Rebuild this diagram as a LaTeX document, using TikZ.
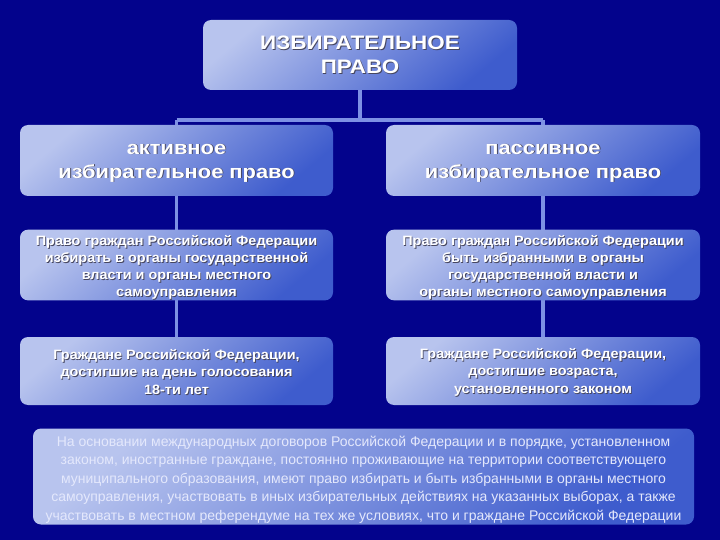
\documentclass[tikz,border=0pt]{standalone}
\usepackage{fontspec}
\setmainfont{Liberation Sans}
\newfontfamily\wideA[FakeStretch=1.15]{Liberation Sans}
\newfontfamily\wideB[FakeStretch=1.07]{Liberation Sans}
\usetikzlibrary{backgrounds}
\definecolor{bgc}{RGB}{3,3,140}
\definecolor{boxlight}{RGB}{184,196,238}
\definecolor{boxdark}{RGB}{62,92,205}
\definecolor{linec}{RGB}{125,145,228}
\definecolor{shadowc}{RGB}{70,70,95}
\definecolor{txtc}{RGB}{255,255,255}
\definecolor{paletxt}{RGB}{228,232,252}
\newcommand{\shd}[1]{\makebox[0pt][l]{\kern0.9pt\raisebox{-0.9pt}{\textcolor{shadowc}{#1}}}#1}
\newcommand{\tp}[1]{\rule{0pt}{#1}}
\tikzset{
  x=1pt, y=-1pt,
  box/.style={rounded corners=8pt, draw=none, top color=boxlight, bottom color=boxdark,
     shading angle=40, align=center, inner sep=0pt, text=txtc},
  conn/.style={draw=linec, line width=3.2pt},
}
\begin{document}
\begin{tikzpicture}
\useasboundingbox (0,0) rectangle (720,540);
\node[box, minimum width=314pt, minimum height=70pt, font=\wideA\fontsize{19.5}{24}\selectfont\bfseries] (top) at (360,55)
  {\shd{ИЗБИРАТЕЛЬНОЕ}\\\shd{ПРАВО}};
\node[box, minimum width=313pt, minimum height=71pt, font=\wideA\fontsize{19}{24}\selectfont\bfseries] (a2) at (176.5,160.5)
  {\tp{16pt}\shd{активное}\\\shd{избирательное право}};
\node[box, minimum width=314pt, minimum height=71pt, font=\wideA\fontsize{19}{24}\selectfont\bfseries] (p2) at (543,160.5)
  {\tp{16pt}\shd{пассивное}\\\shd{избирательное право}};
\node[box, minimum width=313pt, minimum height=70pt, font=\wideB\fontsize{13.5}{17}\selectfont\bfseries] (a3) at (176.5,265)
  {\tp{16pt}\shd{Право граждан Российской Федерации}\\\shd{избирать в органы государственной}\\\shd{власти и органы местного}\\\shd{самоуправления}};
\node[box, minimum width=314pt, minimum height=70pt, font=\wideB\fontsize{13.5}{17}\selectfont\bfseries] (p3) at (543,265)
  {\tp{16pt}\shd{Право граждан Российской Федерации}\\\shd{быть избранными в органы}\\\shd{государственной власти и}\\\shd{органы местного самоуправления}};
\node[box, minimum width=313pt, minimum height=68pt, font=\wideB\fontsize{13.5}{17.5}\selectfont\bfseries] (a4) at (176.5,371)
  {\tp{13pt}\shd{Граждане Российской Федерации,}\\\shd{достигшие на день голосования}\\\shd{18-ти лет}};
\node[box, minimum width=314pt, minimum height=68pt, font=\wideB\fontsize{13.5}{17.5}\selectfont\bfseries] (p4) at (543,371)
  {\tp{13pt}\shd{Граждане Российской Федерации,}\\\shd{достигшие возраста,}\\\shd{установленного законом}};
\node[box, minimum width=661pt, minimum height=96pt, text=paletxt, font=\fontsize{14}{18.5}\selectfont] (bot) at (363.5,476.5)
  {\tp{16pt}На основании международных договоров Российской Федерации и в порядке, установленном\\
   законом, иностранные граждане, постоянно проживающие на территории соответствующего\\
   муниципального образования, имеют право избирать и быть избранными в органы местного\\
   самоуправления, участвовать в иных избирательных действиях на указанных выборах, а также\\
   участвовать в местном референдуме на тех же условиях, что и граждане Российской Федерации};
\coordinate (hy) at (360,120);
\begin{pgfonlayer}{background}
  \fill[bgc] (0,0) rectangle (720,540);
  \draw[conn] (top.south) -- (hy);
  \draw[conn] (a2.north |- hy) -- (p2.north |- hy);
  \draw[conn] (a2.north |- hy) -- (a4.north);
  \draw[conn] (p2.north |- hy) -- (p4.north);
\end{pgfonlayer}
\end{tikzpicture}
\end{document}
